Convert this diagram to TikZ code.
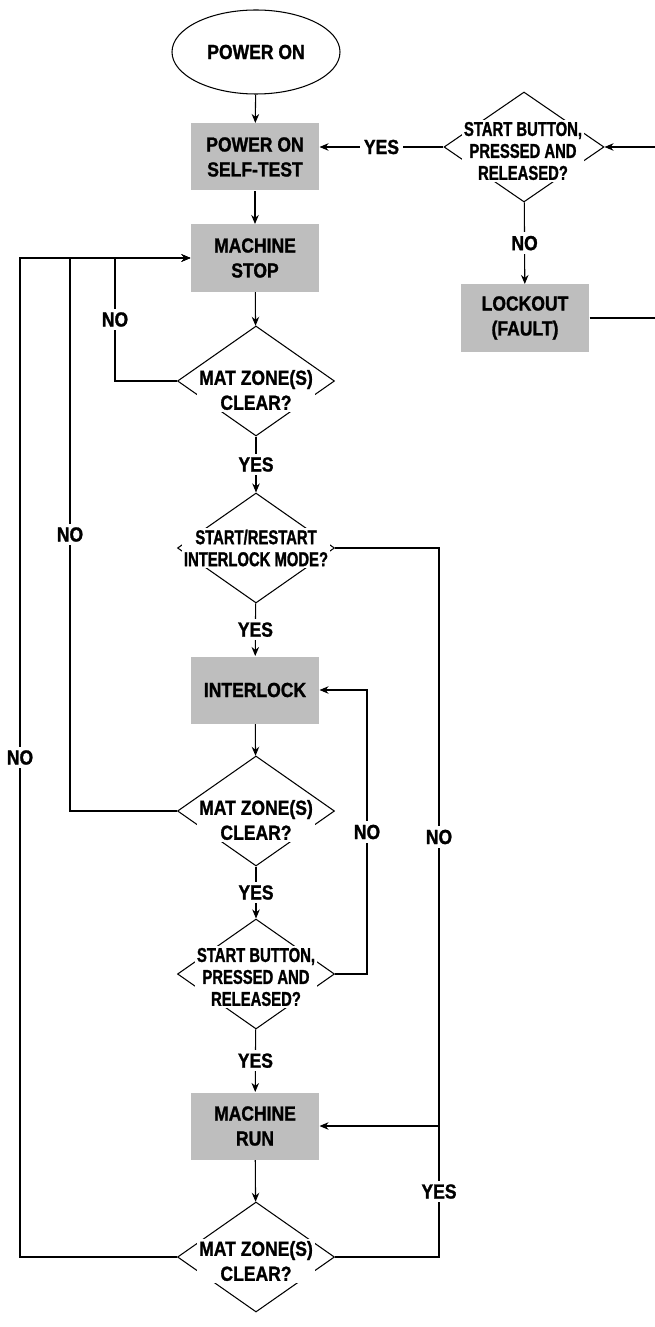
\documentclass[tikz,border=0pt]{standalone}
\usepackage{fontspec}
\setmainfont{Liberation Sans}[FakeStretch=0.86,BoldFeatures={FakeBold=1.2}]
\newfontfamily\narrowfont{Liberation Sans}[FakeStretch=0.74,BoldFeatures={FakeBold=1.2}]
\usepackage{tikz}
\usetikzlibrary{arrows.meta,shapes.geometric}
\definecolor{boxgray}{HTML}{BEBEBE}

\begin{document}
\begin{tikzpicture}[x=0.2mm,y=-0.2mm,>={Stealth[length=1.8mm,width=1.5mm]},line width=0.6pt,
  bigfont/.style={font=\bfseries\fontsize{11.6}{14.2}\selectfont},
  proc/.style={bigfont,fill=boxgray,minimum width=25.6mm,minimum height=13.4mm,align=center},
  decision/.style={draw,diamond,inner sep=0pt,minimum width=31.4mm,minimum height=22mm},
  qbig/.style={bigfont,fill=white,inner sep=1pt,align=center},
  qsmall/.style={font=\narrowfont\bfseries\fontsize{11.4}{12.5}\selectfont,fill=white,inner sep=1pt,align=center},
  lbl/.style={bigfont,fill=white,inner sep=2pt}]
\useasboundingbox (0,0) rectangle (655,1327);
% main column
\node[draw,ellipse,bigfont,minimum width=33.6mm,minimum height=16.8mm] (on) at (256,52) {POWER ON};
\node[proc] (post) at (255,157) {POWER ON\\SELF-TEST};
\node[proc] (stop) at (255,258) {MACHINE\\STOP};
\node[decision] (q1) at (256,381) {};
\node[qbig] (q1t) at (256,390) {MAT ZONE(S)\\CLEAR?};
\node[decision] (q2) at (256,548) {};
\node[qsmall] (q2t) at (256,548) {START/RESTART\\INTERLOCK MODE?};
\node[proc] (inter) at (255,690) {INTERLOCK};
\node[decision] (q3) at (256,811) {};
\node[qbig] (q3t) at (256,820) {MAT ZONE(S)\\CLEAR?};
\node[decision] (q4) at (256,974) {};
\node[qsmall] (q4t) at (256,977) {START BUTTON,\\PRESSED AND\\RELEASED?};
\node[proc] (run) at (255,1126) {MACHINE\\RUN};
\node[decision] (q5) at (256,1257) {};
\node[qbig] (q5t) at (256,1261) {MAT ZONE(S)\\CLEAR?};
% top right
\node[decision,minimum width=32mm] (q0) at (524,147) {};
\node[qsmall] (q0t) at (523,151) {START BUTTON,\\PRESSED AND\\RELEASED?};
\node[proc] (lock) at (525,318) {LOCKOUT\\(FAULT)};
\coordinate (inR) at (655,147);
\coordinate (outR) at (655,318);
\coordinate (l1) at (115,258);
\coordinate (l2) at (70,258);
\coordinate (l3) at (20,258);
\coordinate (r1) at (367,690);
\coordinate (r2) at (439,1126);

\draw[->] (on) -- (post);
\draw[->] (post) -- (stop);
\draw[->] (stop) -- (q1);
\draw[->] (q1) -- node[lbl] (y1) {YES} (q2);
\draw[->] (q2) -- node[lbl] (y2) {YES} (inter);
\draw[->] (inter) -- (q3);
\draw[->] (q3) -- node[lbl] (y3) {YES} (q4);
\draw[->] (q4) -- node[lbl] (y4) {YES} (run);
\draw[->] (run) -- (q5);
% loops back to stop
\draw[->] (q1.west) -| node[lbl,pos=0.75] (n1) {NO} (l1) -- (stop.west);
\draw[->] (q3.west) -| node[lbl,pos=0.75] (n2) {NO} (l2) -- (stop.west);
\draw[->] (q5.west) -| node[lbl,pos=0.75] (n3) {NO} (l3) -- (stop.west);
% right side loops
\draw[->] (q4.east) -| node[lbl,pos=0.75] (n4) {NO} (r1) -- (inter.east);
\draw[->] (q2.east) -| node[lbl,pos=0.75] (n5) {NO} (r2) -- (run.east);
\draw (q5.east) -| node[lbl,pos=0.75] (y5) {YES} (r2);
% lockout part
\draw[->] (q0.west) -- node[lbl] (y0) {YES} (q0.west -| post.east);
\draw[->] (q0) -- node[lbl] (n0) {NO} (lock);
\draw[->] (inR) -- (q0.east);
\draw (lock.east) -- (outR);
\end{tikzpicture}
\end{document}
